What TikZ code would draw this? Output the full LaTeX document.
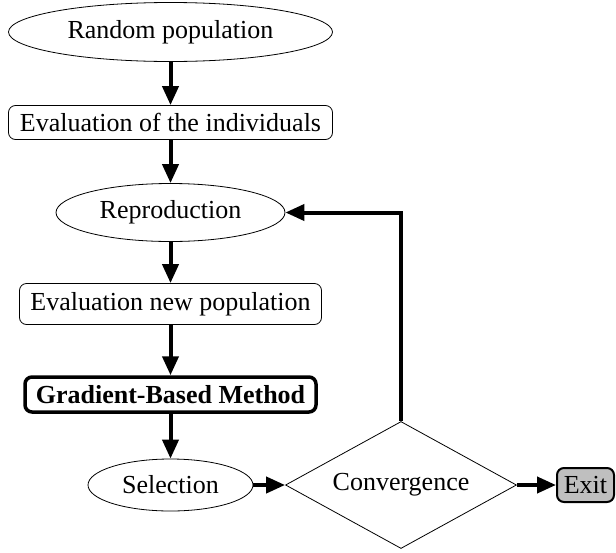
\documentclass[tikz,border=0pt]{standalone}
\usepackage{fontspec}
\setmainfont{Liberation Serif}
\usetikzlibrary{shapes.geometric,arrows.meta}

\newcommand*{\colx}{170.5}
\newcommand*{\rowy}{485}

\begin{document}
\begin{tikzpicture}[x=1pt,y=-1pt,
	font=\fontsize{26}{30}\selectfont,
	>={Triangle[length=19pt,width=16pt]},
	oval/.style={ellipse,draw,line width=0.8pt,inner sep=0pt},
	box/.style={rectangle,rounded corners=7pt,draw,line width=0.8pt,inner sep=0pt},
	flow/.style={->,line width=4pt}]

	\useasboundingbox (0,0) rectangle (616,552);

	% main column
	\node[oval,minimum width=324pt,minimum height=59pt] (rand) at (\colx,32) {Random population};
	\node[box,minimum width=324pt,minimum height=34pt] (evalind) at (\colx,122.5) {Evaluation of the individuals};
	\node[oval,minimum width=229pt,minimum height=58pt] (repro) at (\colx,212.5) {Reproduction};
	\node[box,minimum width=302pt,minimum height=41pt] (evalnew) at (\colx,304) {Evaluation new population};
	\node[box,line width=3.5pt,minimum width=291pt,minimum height=35pt,font=\fontsize{26}{30}\selectfont\bfseries] (gbm) at (\colx,394.5) {Gradient-Based Method};
	\node[oval,minimum width=165pt,minimum height=52pt] (sel) at (\colx,\rowy) {Selection};

	% test and exit
	\node[diamond,draw,line width=0.8pt,aspect=1.8,inner sep=0pt,minimum width=231pt,minimum height=127pt] (conv) at (401,\rowy) {Convergence};
	\node[box,fill=gray!50,line width=2pt,minimum width=57pt,minimum height=34pt] (exit) at (585.5,\rowy) {Exit};

	\draw[flow] (rand) -- (evalind);
	\draw[flow] (evalind) -- (repro);
	\draw[flow] (repro) -- (evalnew);
	\draw[flow] (evalnew) -- (gbm);
	\draw[flow] (gbm) -- (sel);
	\draw[flow] (sel) -- (conv);
	\draw[flow] (conv) -- (exit);
	\draw[flow] (conv.north) |- (repro.east);

\end{tikzpicture}
\end{document}
